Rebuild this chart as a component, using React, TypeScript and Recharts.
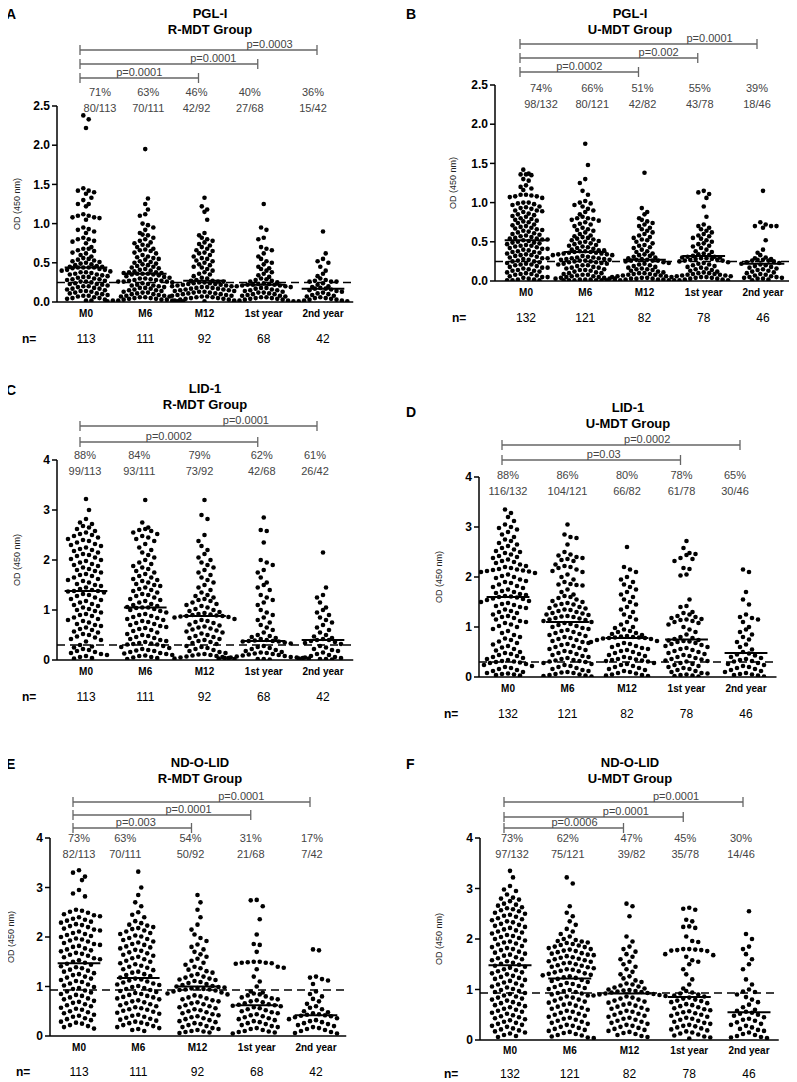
import React from "react";
import { ScatterChart, Scatter, XAxis, YAxis, ReferenceLine } from "recharts";

const FONT = "'Liberation Sans', Arial, sans-serif";
const CATEGORIES = ["M0", "M6", "M12", "1st year", "2nd year"];

// OD values x100
const PGL_R_M0 = [238,233,222,145,142,142,140,138,133,130,125,125,122,112,110,110,108,108,107,105,95,93,92,90,88,82,80,80,78,77,75,70,68,68,66,65,63,62,60,58,56,55,54,53,52,51,50,49,48,47,46,45,45,44,44,44,44,43,42,41,41,40,39,38,38,37,36,35,35,34,33,32,32,31,30,29,29,28,27,26,26,25,24,23,23,22,21,20,20,19,18,17,17,16,15,14,14,13,12,11,11,10,9,8,8,7,6,5,5,4,3,2,2];
const PGL_R_M6 = [195,132,125,118,112,110,100,98,95,92,88,86,85,82,80,78,76,75,73,72,70,68,67,66,65,63,62,60,58,57,56,55,54,52,51,50,49,48,47,46,45,44,43,42,41,40,39,38,38,37,37,36,36,36,35,35,34,33,32,31,30,30,29,28,28,27,27,26,26,26,25,24,23,22,21,21,20,19,18,18,17,16,15,15,14,13,12,12,11,10,10,9,8,8,7,7,6,6,5,5,4,4,3,3,3,2,2,2,1,1,1];
const PGL_R_M12 = [133,122,118,115,105,88,85,82,80,78,76,74,72,70,68,66,65,63,62,60,58,56,55,53,52,50,48,47,45,44,42,40,38,36,35,33,31,30,28,27,27,26,26,25,25,24,24,23,23,22,22,21,21,20,20,19,19,18,18,17,17,16,16,15,15,14,14,13,13,12,12,11,11,10,10,9,9,8,8,7,7,6,6,5,5,4,4,3,3,2,2,1];
const PGL_R_Y1 = [125,95,92,82,80,70,68,66,62,58,55,52,50,48,45,43,42,40,38,36,34,32,30,29,28,27,26,25,24,23,23,22,22,22,21,21,20,20,19,18,18,17,16,15,15,14,13,12,12,11,10,10,9,8,8,7,6,6,5,5,4,4,3,3,2,2,1,1];
const PGL_R_Y2 = [90,62,55,52,50,45,40,36,33,30,28,27,26,26,26,24,22,20,19,18,17,17,16,15,14,13,12,11,10,9,8,7,6,5,5,4,3,3,2,2,1,1];

const PGL_U_M0 = [142,137,136,136,135,130,128,122,120,118,116,110,110,109,108,108,107,106,100,100,99,98,97,95,94,93,92,90,90,89,88,86,85,84,83,82,80,79,78,77,76,75,74,72,71,70,69,68,67,66,65,64,63,62,61,60,59,58,57,56,55,54,54,53,53,52,51,50,49,49,48,47,46,45,45,44,43,42,41,41,40,39,38,37,37,36,35,34,33,33,32,31,30,29,29,28,27,26,25,25,24,23,22,21,21,20,19,18,17,17,16,15,14,13,13,12,11,10,9,9,8,7,6,5,5,4,3,2,2,1,1,1];
const PGL_U_M6 = [175,148,130,125,115,110,102,100,99,97,95,92,90,88,85,82,80,80,79,78,77,75,73,72,70,68,66,65,64,62,60,58,57,56,55,54,53,52,51,50,49,48,47,46,45,44,43,42,41,40,39,39,38,38,37,37,36,36,35,35,34,34,33,33,32,31,30,30,29,29,28,28,27,27,26,26,25,25,24,24,23,22,22,21,20,20,19,18,17,17,16,15,14,14,13,12,11,10,10,9,8,8,7,6,6,5,5,4,4,3,3,3,2,2,2,1,1,1,1,1,1];
const PGL_U_M12 = [138,93,88,85,80,78,76,74,72,70,68,66,64,62,60,58,56,55,53,52,50,48,46,45,43,42,40,38,37,35,34,33,32,31,30,29,28,27,27,26,26,26,25,24,23,22,21,20,19,18,17,16,15,15,14,13,12,11,10,10,9,9,8,8,7,7,6,6,5,5,4,4,3,3,3,2,2,2,1,1,1,1];
const PGL_U_Y1 = [115,113,111,106,95,82,72,70,68,66,64,62,60,58,57,55,54,52,50,48,47,45,44,42,40,38,37,35,34,33,32,31,31,30,30,29,29,28,28,27,27,26,26,25,24,23,22,21,20,19,18,17,16,15,14,13,12,11,10,10,9,9,8,8,7,7,6,6,5,5,4,4,3,3,2,2,1,1];
const PGL_U_Y2 = [115,75,72,70,70,70,68,52,40,36,33,30,29,28,27,27,26,26,25,24,23,22,21,20,19,18,17,16,15,14,13,12,11,10,9,8,7,6,5,5,4,4,3,3,2,1];

const LID_R_M0 = [322,300,282,275,272,268,265,262,258,255,252,250,248,245,242,240,238,235,232,230,228,225,222,220,218,215,212,210,208,205,202,200,198,195,192,190,188,185,182,180,178,175,172,170,168,165,162,160,158,155,152,150,148,145,142,140,138,138,137,135,132,130,128,125,122,120,118,115,112,110,108,105,102,100,98,95,92,90,88,85,82,80,78,75,72,70,68,65,62,60,57,55,52,50,47,45,42,40,37,30,27,25,22,20,18,16,14,12,10,8,6,4,3];
const LID_R_M6 = [320,275,265,262,260,258,255,252,248,245,242,238,232,225,220,215,210,205,200,195,192,188,185,182,178,175,172,168,165,162,160,158,155,152,150,148,145,142,140,138,135,132,130,128,125,122,120,118,115,112,110,108,106,105,105,104,102,100,98,95,92,90,88,86,84,82,80,78,76,74,72,70,68,66,64,62,60,58,55,52,50,48,46,44,42,40,38,36,34,33,32,31,31,28,26,24,22,20,19,18,16,14,13,12,10,9,8,6,5,4,2];
const LID_R_M12 = [320,290,282,250,238,228,220,212,205,200,195,190,185,180,175,170,165,160,155,150,145,140,135,130,128,125,122,120,118,115,112,110,108,105,102,100,98,96,94,92,91,90,89,88,88,87,86,85,82,80,78,76,74,71,69,67,65,63,61,59,57,55,53,50,48,46,44,42,40,38,36,34,32,28,26,24,22,20,18,16,14,12,11,10,9,8,7,6,5,4,3,2];
const LID_R_Y1 = [285,260,258,235,200,195,190,180,175,165,155,150,145,140,130,125,120,115,110,100,95,90,85,80,75,70,65,60,55,50,48,46,44,42,40,39,38,38,37,37,35,33,28,26,24,22,20,18,16,15,14,13,12,11,10,9,8,7,6,5,5,4,4,3,3,2,2,1];
const LID_R_Y2 = [215,145,130,125,115,105,100,95,90,85,80,75,70,65,60,55,50,47,44,42,40,40,38,36,34,32,28,25,22,20,18,15,12,10,8,6,5,4,3,2,2,1];

const LID_U_M0 = [335,328,320,312,305,300,298,295,290,285,280,275,272,268,265,262,258,255,252,250,248,245,242,240,238,235,232,230,228,225,222,220,218,216,215,214,213,212,211,210,208,205,202,200,198,195,192,190,188,185,182,180,178,175,172,170,168,166,164,162,161,160,159,157,156,154,152,150,148,146,144,142,140,138,135,132,130,128,125,122,120,118,115,112,110,108,105,102,100,96,92,88,84,80,77,74,71,68,65,62,59,56,53,50,48,46,44,42,40,38,36,34,32,31,30,29,28,26,24,22,20,18,16,14,12,10,8,7,6,5,4,3];
const LID_U_M6 = [305,285,280,278,265,250,245,243,240,238,236,234,232,225,222,220,218,215,212,210,205,200,195,190,186,185,184,183,175,170,165,162,160,158,155,152,150,148,146,145,143,140,138,137,135,134,132,130,128,127,125,124,122,121,120,118,117,115,114,112,110,108,106,104,102,100,98,96,94,92,90,88,86,84,82,80,78,76,74,72,70,68,66,64,62,60,58,56,54,52,50,48,46,44,42,40,38,36,34,33,32,31,30,28,26,24,22,20,18,16,14,12,10,9,8,6,5,4,3,2,1];
const LID_U_M12 = [260,220,215,210,200,195,190,185,180,175,170,165,160,155,150,145,140,135,130,125,120,115,110,105,100,98,95,92,90,88,86,84,82,81,80,79,79,78,78,77,76,74,72,70,68,66,64,62,60,58,56,54,52,50,48,46,44,42,40,38,36,35,34,33,32,31,28,26,24,22,20,18,16,14,12,10,8,7,5,4,3,2];
const LID_U_Y1 = [272,258,248,246,244,238,236,232,218,216,205,203,155,142,140,130,128,125,122,120,118,116,115,114,112,110,108,105,100,95,90,85,80,78,76,74,73,72,71,70,68,66,64,62,60,58,56,54,52,50,48,46,44,42,40,38,36,35,33,32,31,28,26,24,22,20,18,16,14,12,10,8,7,5,4,3,2,1];
const LID_U_Y2 = [215,210,170,155,145,125,120,118,115,110,100,95,90,85,80,75,70,65,60,55,50,47,45,43,40,38,36,34,32,31,28,26,24,22,20,18,16,14,12,10,8,6,5,4,3,1];

const NDO_R_M0 = [335,330,322,315,295,288,282,255,253,251,249,246,244,242,240,237,235,233,231,229,226,224,222,220,217,215,213,211,208,206,204,202,200,197,195,193,191,188,186,184,182,180,177,175,173,171,168,166,164,162,159,157,155,153,150,148,146,144,141,139,137,134,132,130,127,125,123,120,118,116,113,111,109,106,104,102,99,97,95,92,90,88,85,83,81,78,76,74,71,69,67,64,62,60,57,55,53,50,48,46,43,41,39,36,34,32,29,27,25,22,20,18,15];
const NDO_R_M6 = [332,300,285,270,262,250,245,240,232,228,225,223,220,218,216,213,211,208,206,203,201,198,196,194,191,189,186,184,181,179,177,174,172,169,167,164,162,160,157,155,152,150,147,145,142,140,138,135,133,130,128,125,123,121,118,116,114,112,110,108,106,104,103,101,99,97,95,93,91,89,87,85,83,81,79,78,76,74,72,70,68,66,64,62,60,58,56,54,53,51,49,47,45,43,41,39,37,35,33,31,29,27,26,24,22,20,18,16,14,12,10];
const NDO_R_M12 = [285,270,255,240,225,215,205,198,192,185,180,175,170,165,160,156,152,148,144,140,137,134,131,128,125,122,120,118,116,114,113,111,109,107,105,103,101,100,99,98,97,96,95,94,94,93,92,90,88,86,84,82,80,78,76,74,72,70,68,66,64,62,60,58,56,54,52,50,48,46,44,42,40,38,36,34,32,30,28,26,24,22,20,18,16,14,12,10,9,8,7,6];
const NDO_R_Y1 = [275,274,262,236,205,186,184,170,150,150,149,148,148,147,146,140,138,135,120,110,100,90,88,86,84,82,80,78,76,74,72,70,68,66,64,63,62,61,60,58,56,54,52,50,48,46,44,42,40,38,36,34,32,30,28,26,24,22,20,18,16,14,12,10,9,8,7,5];
const NDO_R_Y2 = [175,173,120,118,115,112,105,90,85,80,75,70,65,60,57,54,50,48,46,44,43,42,41,40,38,36,34,32,30,28,26,24,22,20,18,16,14,12,10,8,6,5];

const NDO_U_M0 = [335,322,305,298,295,288,282,280,278,275,270,268,266,263,261,259,257,255,252,250,248,246,244,241,239,237,235,233,230,228,226,224,222,219,217,215,213,211,208,206,204,202,200,197,195,193,191,189,186,184,182,180,178,175,173,171,169,167,164,162,160,158,156,153,151,149,147,145,143,140,138,136,134,132,130,127,125,123,121,119,117,114,112,110,108,106,104,101,99,97,95,93,91,88,86,84,82,80,78,75,73,71,69,67,65,62,60,58,56,54,52,49,47,45,43,41,39,36,34,32,30,28,26,23,21,19,17,15,13,10,8,6];
const NDO_U_M6 = [322,310,265,252,245,235,228,220,215,210,205,200,198,196,195,193,192,190,188,187,185,184,182,180,179,177,176,174,172,171,169,168,166,164,163,161,160,158,156,155,153,152,150,148,147,145,144,142,140,139,137,136,134,132,131,129,128,126,124,123,121,119,117,115,113,111,109,107,105,103,101,99,97,95,93,92,90,88,86,84,82,80,78,76,74,72,70,68,66,64,62,60,58,56,54,52,50,48,46,44,42,40,38,36,34,32,30,28,26,24,22,20,18,16,14,12,10,9,7,5,4];
const NDO_U_M12 = [270,265,245,205,195,185,180,175,170,165,160,155,150,145,140,135,130,126,122,118,115,112,110,108,106,104,102,100,99,98,97,96,95,94,93,92,91,90,89,88,87,86,84,82,80,78,76,74,72,70,68,66,64,62,60,58,56,54,52,50,48,46,44,42,40,38,36,34,32,30,28,26,24,22,20,18,16,14,12,10,8,6];
const NDO_U_Y1 = [262,260,258,238,235,225,224,222,205,196,194,180,180,179,178,178,177,176,170,168,165,158,155,150,140,130,120,110,102,97,94,92,90,88,86,84,82,80,78,77,75,73,71,69,67,65,63,61,59,57,55,53,52,50,48,46,44,42,40,38,36,34,32,30,28,27,25,23,21,19,17,15,13,11,9,7,5,3];
const NDO_U_Y2 = [255,210,200,185,180,170,160,150,140,120,110,100,96,95,90,85,80,75,70,65,60,58,56,54,52,50,48,45,42,40,38,35,32,30,28,25,22,20,18,15,12,10,8,6,5,4];

type Bracket = { to: number; p: string };

type PanelContent = {
  letter: string;
  antigen: string;
  group: string;
  groups: number[][];
  medians: number[];
  cutoff: number;
  yMax: number;
  yTicks: number[];
  digits: number;
  pct: string[];
  frac: string[];
  n: number[];
  brackets: Bracket[];
};

const PANELS: PanelContent[] = [
  {
    letter: "A", antigen: "PGL-I", group: "R-MDT Group",
    groups: [PGL_R_M0, PGL_R_M6, PGL_R_M12, PGL_R_Y1, PGL_R_Y2],
    medians: [0.44, 0.36, 0.27, 0.22, 0.17], cutoff: 0.25,
    yMax: 2.5, yTicks: [0, 0.5, 1, 1.5, 2, 2.5], digits: 1,
    pct: ["71%", "63%", "46%", "40%", "36%"],
    frac: ["80/113", "70/111", "42/92", "27/68", "15/42"],
    n: [113, 111, 92, 68, 42],
    brackets: [{ to: 4, p: "p=0.0003" }, { to: 3, p: "p=0.0001" }, { to: 2, p: "p=0.0001" }],
  },
  {
    letter: "B", antigen: "PGL-I", group: "U-MDT Group",
    groups: [PGL_U_M0, PGL_U_M6, PGL_U_M12, PGL_U_Y1, PGL_U_Y2],
    medians: [0.52, 0.37, 0.27, 0.32, 0.22], cutoff: 0.25,
    yMax: 2.5, yTicks: [0, 0.5, 1, 1.5, 2, 2.5], digits: 1,
    pct: ["74%", "66%", "51%", "55%", "39%"],
    frac: ["98/132", "80/121", "42/82", "43/78", "18/46"],
    n: [132, 121, 82, 78, 46],
    brackets: [{ to: 4, p: "p=0.0001" }, { to: 3, p: "p=0.002" }, { to: 2, p: "p=0.0002" }],
  },
  {
    letter: "C", antigen: "LID-1", group: "R-MDT Group",
    groups: [LID_R_M0, LID_R_M6, LID_R_M12, LID_R_Y1, LID_R_Y2],
    medians: [1.38, 1.05, 0.88, 0.38, 0.4], cutoff: 0.3,
    yMax: 4, yTicks: [0, 1, 2, 3, 4], digits: 0,
    pct: ["88%", "84%", "79%", "62%", "61%"],
    frac: ["99/113", "93/111", "73/92", "42/68", "26/42"],
    n: [113, 111, 92, 68, 42],
    brackets: [{ to: 4, p: "p=0.0001" }, { to: 3, p: "p=0.0002" }],
  },
  {
    letter: "D", antigen: "LID-1", group: "U-MDT Group",
    groups: [LID_U_M0, LID_U_M6, LID_U_M12, LID_U_Y1, LID_U_Y2],
    medians: [1.6, 1.1, 0.78, 0.75, 0.48], cutoff: 0.3,
    yMax: 4, yTicks: [0, 1, 2, 3, 4], digits: 0,
    pct: ["88%", "86%", "80%", "78%", "65%"],
    frac: ["116/132", "104/121", "66/82", "61/78", "30/46"],
    n: [132, 121, 82, 78, 46],
    brackets: [{ to: 4, p: "p=0.0002" }, { to: 3, p: "p=0.03" }],
  },
  {
    letter: "E", antigen: "ND-O-LID", group: "R-MDT Group",
    groups: [NDO_R_M0, NDO_R_M6, NDO_R_M12, NDO_R_Y1, NDO_R_Y2],
    medians: [1.47, 1.17, 1.0, 0.62, 0.42], cutoff: 0.93,
    yMax: 4, yTicks: [0, 1, 2, 3, 4], digits: 0,
    pct: ["73%", "63%", "54%", "31%", "17%"],
    frac: ["82/113", "70/111", "50/92", "21/68", "7/42"],
    n: [113, 111, 92, 68, 42],
    brackets: [{ to: 4, p: "p=0.0001" }, { to: 3, p: "p=0.0001" }, { to: 2, p: "p=0.003" }],
  },
  {
    letter: "F", antigen: "ND-O-LID", group: "U-MDT Group",
    groups: [NDO_U_M0, NDO_U_M6, NDO_U_M12, NDO_U_Y1, NDO_U_Y2],
    medians: [1.48, 1.22, 0.92, 0.85, 0.55], cutoff: 0.93,
    yMax: 4, yTicks: [0, 1, 2, 3, 4], digits: 0,
    pct: ["73%", "62%", "47%", "45%", "30%"],
    frac: ["97/132", "75/121", "39/82", "35/78", "14/46"],
    n: [132, 121, 82, 78, 46],
    brackets: [{ to: 4, p: "p=0.0001" }, { to: 3, p: "p=0.0001" }, { to: 2, p: "p=0.0006" }],
  },
];

// page geometry of each panel (pixels)
type Layout = {
  axisX: number; col0: number; step: number; top: number; zero: number; rowH: number; dotStep: number;
  letterX: number; letterY: number; titleX: number; titleY: number;
  brY: number[]; brAt: number[]; pctY: number; pctDx: number[];
  labY: number; nY: number; nX: number; yTitleX: number;
};

const LAYOUT: Layout[] = [
  { axisX: 57, col0: 86, step: 59.25, top: 106, zero: 302, rowH: 4.5, dotStep: 5.4, letterX: 6, letterY: 14, titleX: 210, titleY: 13,
    brY: [50, 64, 78], brAt: [0.8, 0.75, 0.5], pctY: 92, pctDx: [14, 3, -8, -14, -10], labY: 317, nY: 339, nX: 22, yTitleX: 20 },
  { axisX: 495, col0: 526, step: 59.25, top: 85, zero: 281, rowH: 4.5, dotStep: 5.4, letterX: 406, letterY: 14, titleX: 630, titleY: 13,
    brY: [44, 58, 72], brAt: [0.8, 0.78, 0.5], pctY: 88, pctDx: [15, 7, -2, -4, -6], labY: 296, nY: 318, nX: 452, yTitleX: 456 },
  { axisX: 57, col0: 86, step: 59.25, top: 460, zero: 660, rowH: 6.5, dotStep: 6, letterX: 6, letterY: 390, titleX: 205, titleY: 388,
    brY: [426, 442], brAt: [0.7, 0.5], pctY: 455, pctDx: [-1, -6, -5, -2, -8], labY: 675, nY: 697, nX: 22, yTitleX: 20 },
  { axisX: 479, col0: 508, step: 59.5, top: 477, zero: 677, rowH: 6.5, dotStep: 6, letterX: 406, letterY: 412, titleX: 628, titleY: 407,
    brY: [445, 460], brAt: [0.61, 0.57], pctY: 475, pctDx: [0, 0, 0, -5, -11], labY: 692, nY: 714, nX: 444, yTitleX: 442 },
  { axisX: 50, col0: 79, step: 59.25, top: 838, zero: 1036, rowH: 6.5, dotStep: 6, letterX: 6, letterY: 764, titleX: 200, titleY: 762,
    brY: [802, 815, 828], brAt: [0.71, 0.65, 0.53], pctY: 838, pctDx: [0, -13, -7, -6, -4], labY: 1051, nY: 1072, nX: 16, yTitleX: 14 },
  { axisX: 480, col0: 510, step: 59.75, top: 838, zero: 1040, rowH: 6.5, dotStep: 6, letterX: 406, letterY: 764, titleX: 630, titleY: 762,
    brY: [802, 817, 828], brAt: [0.72, 0.68, 0.59], pctY: 838, pctDx: [2, -2, 2, -4, -8], labY: 1054, nY: 1074, nX: 444, yTitleX: 442 },
];

const DOT_R = 2.3;

// Prism-like column scatter: near-equal values share a row, rows interleave
function columnDots(values: number[], col: number, pxPerUnit: number, step: number, rowH: number, dotStep: number) {
  const sorted = values.map((v) => v / 100).sort((a, b) => b - a);
  const rows: number[][] = [];
  let cur: number[] = [];
  let startPx = 0;
  for (const v of sorted) {
    const px = v * pxPerUnit;
    if (cur.length && startPx - px < rowH) {
      cur.push(v);
    } else {
      if (cur.length) rows.push(cur);
      cur = [v];
      startPx = px;
    }
  }
  if (cur.length) rows.push(cur);

  const pts: { x: number; y: number }[] = [];
  let prevHalf: boolean | null = null;
  rows.forEach((row, r) => {
    const k = row.length;
    let half = k % 2 === 0;
    let shift = 0;
    if (prevHalf !== null && half === prevHalf) {
      shift = r % 2 ? 0.5 : -0.5;
      half = !half;
    }
    prevHalf = half;
    // slots from the centre outwards, highest value in the middle
    const slots = Array.from({ length: k }, (_, j) => j - (k - 1) / 2 + shift).sort(
      (a, b) => Math.abs(a) - Math.abs(b)
    );
    row.forEach((v, j) => {
      pts.push({ x: col + (slots[j] * dotStep) / step, y: v });
    });
  });
  return pts;
}

const Dot = (props: any) => <circle cx={props.cx} cy={props.cy} r={DOT_R} fill="#000" />;

const Y_AXIS_W = 40;
const PAD_TOP = 6;
const X_AXIS_H = 26;

function PanelChart({ c, l }: { c: PanelContent; l: Layout }) {
  const plotH = l.zero - l.top;
  const plotW = l.step * 5;
  const pxPerUnit = plotH / c.yMax;
  const dMin = -(l.col0 - l.axisX) / l.step;
  const width = Y_AXIS_W + plotW + 2;
  const height = PAD_TOP + plotH + X_AXIS_H;
  const series = c.groups.map((vals, i) => columnDots(vals, i, pxPerUnit, l.step, l.rowH, l.dotStep));

  return (
    <div style={{ position: "absolute", left: l.axisX - Y_AXIS_W, top: l.top - PAD_TOP }}>
      <ScatterChart width={width} height={height} margin={{ top: PAD_TOP, right: 2, bottom: 0, left: 0 }}>
        <XAxis
          type="number"
          dataKey="x"
          domain={[dMin, dMin + 5]}
          ticks={[0, 1, 2, 3, 4]}
          interval={0}
          height={X_AXIS_H}
          allowDataOverflow
          tickLine={false}
          axisLine={{ stroke: "#000", strokeWidth: 1.5 }}
          tick={(p: any) => (
            <text x={p.x} y={l.labY - (l.top - PAD_TOP)} textAnchor="middle" fontFamily={FONT} fontSize={10} fontWeight="bold" fill="#000">
              {CATEGORIES[p.payload.value]}
            </text>
          )}
        />
        <YAxis
          type="number"
          dataKey="y"
          domain={[0, c.yMax]}
          ticks={c.yTicks}
          interval={0}
          width={Y_AXIS_W}
          allowDataOverflow
          tickSize={5}
          tickLine={{ stroke: "#000", strokeWidth: 1.5 }}
          axisLine={{ stroke: "#000", strokeWidth: 1.5 }}
          tickFormatter={(v: number) => v.toFixed(c.digits)}
          tick={{ fontFamily: FONT, fontSize: 12, fontWeight: "bold", fill: "#000" }}
        />
        <ReferenceLine y={c.cutoff} stroke="#000" strokeWidth={1.5} strokeDasharray="8 5" />
        {series.map((pts, i) => (
          <Scatter key={i} data={pts} shape={Dot} isAnimationActive={false} />
        ))}
        {c.medians.map((m, i) => (
          <ReferenceLine
            key={"m" + i}
            segment={[{ x: i - 0.36, y: m }, { x: i + 0.36, y: m }]}
            stroke="#000"
            strokeWidth={2}
          />
        ))}
      </ScatterChart>
    </div>
  );
}

function PanelText({ c, l }: { c: PanelContent; l: Layout }) {
  const colX = (i: number) => l.col0 + i * l.step;
  const bx0 = colX(0) - 6;
  const midY = (l.top + l.zero) / 2;
  return (
    <g fontFamily={FONT}>
      <text x={l.letterX} y={l.letterY + 5} fontSize={14} fontWeight="bold">{c.letter}</text>
      <text x={l.titleX} y={l.titleY + 5} fontSize={13} fontWeight="bold" textAnchor="middle">{c.antigen}</text>
      <text x={l.titleX} y={l.titleY + 21} fontSize={13} fontWeight="bold" textAnchor="middle">{c.group}</text>
      {c.brackets.map((b, j) => {
        const y = l.brY[j];
        const bx1 = colX(b.to) - 6;
        const tx = bx0 + (bx1 - bx0) * l.brAt[j];
        return (
          <g key={j}>
            <line x1={bx0} x2={bx1} y1={y} y2={y} stroke="#666" strokeWidth={1.3} />
            <line x1={bx0} x2={bx0} y1={y - 5} y2={y + 5} stroke="#666" strokeWidth={1.3} />
            <line x1={bx1} x2={bx1} y1={y - 5} y2={y + 5} stroke="#666" strokeWidth={1.3} />
            <text x={tx} y={y - 2} fontSize={11} fill="#444" textAnchor="middle">{b.p}</text>
          </g>
        );
      })}
      {c.pct.map((t, i) => (
        <g key={i}>
          <text x={colX(i) + l.pctDx[i]} y={l.pctY + 4} fontSize={11} fill="#444" textAnchor="middle">{t}</text>
          <text x={colX(i) + l.pctDx[i]} y={l.pctY + 20} fontSize={11} fill="#444" textAnchor="middle">{c.frac[i]}</text>
        </g>
      ))}
      <text
        transform={`translate(${l.yTitleX},${midY}) rotate(-90)`}
        fontSize={9}
        textAnchor="middle"
        fill="#222"
      >
        OD (450 nm)
      </text>
      <text x={l.nX} y={l.nY + 4} fontSize={12} fontWeight="bold">n=</text>
      {c.n.map((v, i) => (
        <text key={i} x={colX(i)} y={l.nY + 4} fontSize={12} textAnchor="middle">{v}</text>
      ))}
    </g>
  );
}

export default function App() {
  return (
    <div style={{ position: "relative", width: 797, height: 1082, margin: "-8px 0 0 -8px", background: "#fff", overflow: "hidden" }}>
      {PANELS.map((c, i) => (
        <PanelChart key={i} c={c} l={LAYOUT[i]} />
      ))}
      <svg width={797} height={1082} style={{ position: "absolute", left: 0, top: 0, pointerEvents: "none" }}>
        {PANELS.map((c, i) => (
          <PanelText key={i} c={c} l={LAYOUT[i]} />
        ))}
      </svg>
    </div>
  );
}
